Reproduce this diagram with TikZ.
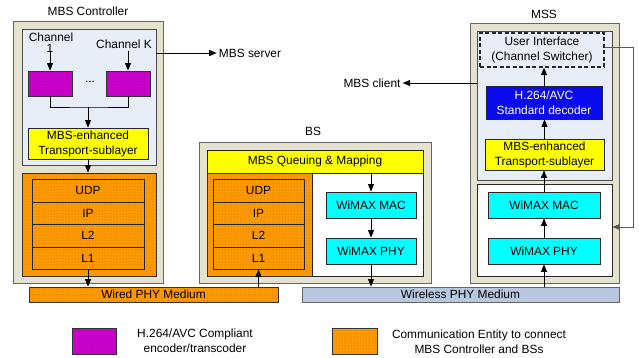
\documentclass[tikz,border=0pt]{standalone}
\usepackage{fontspec}
\setmainfont{Liberation Sans}
\usetikzlibrary{arrows.meta,patterns}
\definecolor{beige}{HTML}{E6E2D0}
\definecolor{lblue}{HTML}{E8EEF8}
\definecolor{org}{HTML}{FF9900}
\definecolor{mag}{HTML}{CC00CC}
\definecolor{yel}{HTML}{FFFF00}
\definecolor{cyn}{HTML}{00FFFF}
\definecolor{dblue}{HTML}{0A0AEE}
\definecolor{wl}{HTML}{B8C8E0}
\newcommand\bx[7]{\node[box,#2,minimum width={#5-#3}, minimum height={#6-#4}] (#1) at ({(#3+#5)/2},{(#4+#6)/2}) {#7};}
\begin{document}
\begin{tikzpicture}[x=1pt,y=-1pt,
  font=\fontsize{11.9}{15}\selectfont,
  box/.style={draw=black!85, line width=0.8pt, inner sep=0pt, align=center},
  outerbox/.style={fill=beige, draw=black!60, line width=1pt},
  innerbox/.style={fill=lblue, draw=black!70},
  orgbox/.style={preaction={fill=org}, pattern=dots, pattern color=org!75!black, draw=black!80},
  magbox/.style={preaction={fill=mag}, pattern=dots, pattern color=mag!70!black, draw=black!80},
  yelbox/.style={fill=yel},
  cynbox/.style={fill=cyn},
  whitebox/.style={fill=white},
  layer/.style={},
  decbox/.style={fill=dblue, text=white},
  uibox/.style={fill=lblue, dashed, dash pattern=on 4pt off 2.5pt, line width=1.3pt},
  wlbox/.style={fill=wl, draw=black!60},
  lbl/.style={inner sep=2pt, align=center},
  arr/.style={-{Triangle[length=7.5pt,width=6pt]}, line width=0.8pt},
  conn/.style={line width=0.8pt}
]
\useasboundingbox (0,0) rectangle (639,358);

% ---------- MBS Controller ----------
\node[lbl] (mctitle) at (88,11) {MBS Controller};
\bx{mcout}{outerbox}{13}{22}{163}{283}{}
\bx{mcin}{innerbox}{22}{29}{156}{165}{}
\node[lbl] (ch1a) at (51,37) {Channel};
\node[lbl, inner sep=0pt] (ch1) at (50,48) {1};
\node[lbl] (chk) at (124,44) {Channel K};
\bx{enc1}{magbox}{28}{71}{72}{96}{}
\bx{enc2}{magbox}{106}{71}{150}{96}{}
\node[lbl] (dots) at (90,82) {...};
\draw[arr] (enc1.north |- ch1.south) -- (enc1.north);
\draw[arr] (enc2.north |- chk.south) -- (enc2.north);
\bx{mctr}{yelbox}{28}{128}{148}{159}{MBS-enhanced\\Transport-sublayer}
\coordinate (mj) at (88,107);
\draw[conn] (enc1.south) |- (mj) -| (enc2.south);
\draw[arr] (mj) -- (mj |- mctr.north);
\bx{mcorg}{orgbox}{22}{173}{156}{276}{}
\draw[arr] (mctr.south) -- (mctr.south |- mcorg.north);
\bx{mudp}{layer}{32}{179}{144}{202}{UDP}
\bx{mip}{layer}{32}{202}{144}{224}{IP}
\bx{ml2}{layer}{32}{224}{144}{247}{L2}
\bx{ml1}{layer}{32}{247}{144}{269}{L1}
\node[lbl] (srv) at (250,53) {MBS server};
\draw[arr] (mcin.east |- srv) -- (srv.west);

% ---------- Media ----------
\bx{wired}{orgbox}{29}{287}{278}{302}{Wired PHY Medium}
\bx{wless}{wlbox}{302}{287}{619}{302}{Wireless PHY Medium}
\draw[arr] (ml1.south) -- (ml1.south |- wired.north);

% ---------- BS ----------
\node[lbl] (bstitle) at (313,131) {BS};
\bx{bsout}{outerbox}{199}{143}{431}{283}{}
\bx{bsq}{yelbox}{207}{150}{423}{173}{MBS Queuing \& Mapping}
\bx{bsorg}{orgbox}{207}{173}{312}{276}{}
\bx{bswh}{whitebox}{312}{173}{423}{276}{}
\bx{budp}{layer}{213}{179}{304}{202}{UDP}
\bx{bip}{layer}{213}{202}{304}{224}{IP}
\bx{bl2}{layer}{213}{224}{304}{247}{L2}
\bx{bl1}{layer}{213}{247}{304}{269}{L1}
\bx{bmac}{cynbox}{326}{192}{416}{218}{WiMAX MAC}
\bx{bphy}{cynbox}{326}{238}{416}{264}{WiMAX PHY}
\draw[arr] (bmac.north |- bsq.south) -- (bmac.north);
\draw[arr] (bmac.south) -- (bphy.north);
\draw[arr] (bphy.south) -- (bphy.south |- wless.north);
\draw[arr] (bl1.south |- wired.north) -- (bl1.south);

% ---------- MSS ----------
\node[lbl] (msstitle) at (544,14) {MSS};
\bx{msout}{outerbox}{470}{24}{619}{283}{}
\bx{msin}{innerbox}{477}{31}{612}{180}{}
\bx{ui}{uibox}{480}{33}{604}{67}{User Interface\\(Channel Switcher)}
\bx{dec}{decbox}{486}{86}{602}{119}{H.264/AVC\\Standard decoder}
\bx{mstr}{yelbox}{485}{139}{604}{170}{MBS-enhanced\\Transport-sublayer}
\bx{mswh}{whitebox}{477}{184}{612}{276}{}
\bx{mmac}{cynbox}{488}{192}{600}{218}{WiMAX MAC}
\bx{mphy}{cynbox}{488}{238}{600}{264}{WiMAX PHY}
\draw[arr] (mphy.south |- wless.north) -- (mphy.south);
\draw[arr] (mphy.north) -- (mmac.south);
\draw[arr] (mmac.north) -- (mmac.north |- mstr.south);
\draw[arr] (mstr.north) -- (mstr.north |- dec.south);
\draw[arr] (dec.north) -- (dec.north |- ui.south);
\node[lbl] (cli) at (372,83) {MBS client};
\draw[arr] (msin.west |- cli) -- (cli.east);
\coordinate (rt) at (633,47);
\coordinate (rb) at (633,227);
\draw[arr, draw=black!65] (ui.east |- rt) -- (rt) -- (rb) -- (mswh.east |- rb);

% ---------- Legend ----------
\bx{legm}{magbox}{72}{328}{116}{354}{}
\node[lbl] (legmt) at (195,341) {H.264/AVC Compliant\\encoder/transcoder};
\bx{lego}{orgbox}{332}{328}{377}{354}{}
\node[lbl] (legot) at (479,342) {Communication Entity to connect\\MBS Controller and BSs};
\end{tikzpicture}
\end{document}
